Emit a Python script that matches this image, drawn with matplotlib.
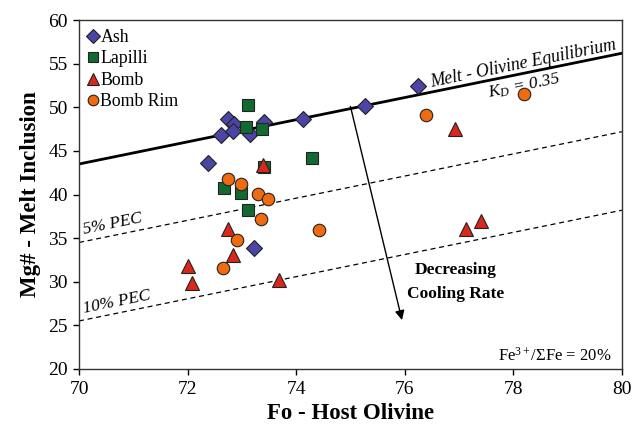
import numpy as np
import matplotlib
matplotlib.use("Agg")
import matplotlib.pyplot as plt

plt.rcParams['font.family'] = ['Liberation Serif', 'DejaVu Serif']
plt.rcParams['mathtext.fontset'] = 'custom'
plt.rcParams['mathtext.rm'] = 'Liberation Serif'
plt.rcParams['mathtext.it'] = 'Liberation Serif:italic'
plt.rcParams['mathtext.bf'] = 'Liberation Serif:bold'

# Host olivine Fo vs melt inclusion Mg#
ash_fo = [72.75, 72.86, 72.61, 72.83, 73.15, 73.41, 74.13, 72.38, 73.23, 75.27, 76.24]
ash_mg = [48.7, 48.1, 46.8, 47.3, 46.9, 48.3, 48.7, 43.6, 33.9, 50.2, 52.4]

lapilli_fo = [73.11, 73.08, 73.37, 74.29, 73.40, 72.67, 72.99, 73.12]
lapilli_mg = [50.3, 47.8, 47.5, 44.2, 43.1, 40.7, 40.2, 38.2]

bomb_fo = [73.39, 72.75, 72.83, 72.01, 72.09, 73.69, 76.93, 77.40, 77.12]
bomb_mg = [43.4, 36.0, 33.1, 31.8, 29.9, 30.2, 47.5, 37.0, 36.0]

rim_fo = [72.74, 72.98, 73.29, 73.49, 73.36, 72.91, 72.66, 74.43, 76.39, 78.19]
rim_mg = [41.8, 41.2, 40.1, 39.5, 37.2, 34.8, 31.6, 35.9, 49.1, 51.5]

# Reference lines (Fo, Mg#) end points
fo_range = [70, 80]
equil_mg = [43.5, 56.2]
pec5_mg = [34.5, 47.2]
pec10_mg = [25.5, 38.2]

fig = plt.figure(figsize=(6.32, 4.28), dpi=100)
ax = fig.add_axes([0.125, 0.138, 0.859, 0.815])

ax.plot(fo_range, equil_mg, color='black', lw=2.0, zorder=2)
ax.plot(fo_range, pec5_mg, color='black', lw=0.9, ls=(0, (4, 3)), zorder=2)
ax.plot(fo_range, pec10_mg, color='black', lw=0.9, ls=(0, (4, 3)), zorder=2)

# Cooling-rate arrow
ax.annotate('', xy=(75.95, 25.6), xytext=(75.0, 50.1),
            arrowprops=dict(arrowstyle='-|>', lw=1.0, color='black',
                            mutation_scale=14, shrinkA=0, shrinkB=0),
            zorder=2)

ek = dict(markeredgecolor='#222222', markeredgewidth=0.8, linestyle='none', zorder=3)
ax.plot(ash_fo, ash_mg, marker='D', markersize=7.8, color='#4b46a6', label='Ash', **ek)
ax.plot(lapilli_fo, lapilli_mg, marker='s', markersize=8.5, color='#126a30', label='Lapilli', **ek)
ax.plot(bomb_fo, bomb_mg, marker='^', markersize=9.5, color='#d8271d', label='Bomb', **ek)
ax.plot(rim_fo, rim_mg, marker='o', markersize=9, color='#f06a10', label='Bomb Rim', **ek)

ax.set_xlim(70, 80)
ax.set_ylim(20, 60)
ax.set_xticks(np.arange(70, 81, 2))
ax.set_yticks(np.arange(20, 61, 5))
ax.tick_params(axis='both', direction='out', length=4, width=1, labelsize=14,
               top=False, right=False)
ax.tick_params(axis='x', pad=5)
ax.tick_params(axis='y', pad=4)
for s in ax.spines.values():
    s.set_linewidth(1.0)
    s.set_color('#333333')

ax.set_xlabel('Fo - Host Olivine', fontsize=16.5, fontweight='bold', labelpad=3)
ax.set_ylabel('Mg# - Melt Inclusion', fontsize=16.5, fontweight='bold', labelpad=5)

leg = ax.legend(loc='upper left', frameon=False, fontsize=12.8, handlelength=0.55,
                handletextpad=0.15, labelspacing=0.25, borderaxespad=0.2,
                borderpad=0.3, markerscale=0.85)

slope_ang = np.degrees(np.arctan((equil_mg[1] - equil_mg[0]) / (fo_range[1] - fo_range[0])))

ax.text(76.5, 52.3, 'Melt - Olivine Equilibrium', fontsize=12.8, style='italic',
        rotation=slope_ang, transform_rotates_text=True, rotation_mode='anchor',
        ha='left', va='baseline')
ax.text(77.55, 51.1, r'$K_D$ = 0.35', fontsize=12.5, style='italic',
        rotation=slope_ang, transform_rotates_text=True, rotation_mode='anchor',
        ha='left', va='baseline')
ax.text(70.1, 35.5, '5% PEC', fontsize=12.4, style='italic',
        rotation=slope_ang, transform_rotates_text=True, rotation_mode='anchor',
        ha='left', va='baseline')
ax.text(70.1, 26.4, '10% PEC', fontsize=12.4, style='italic',
        rotation=slope_ang, transform_rotates_text=True, rotation_mode='anchor',
        ha='left', va='baseline')

ax.text(76.93, 31.4, 'Decreasing', fontsize=12.5, fontweight='bold', ha='center', va='center')
ax.text(76.93, 28.6, 'Cooling Rate', fontsize=12.5, fontweight='bold', ha='center', va='center')

ax.text(79.8, 21.5, r'Fe$^{3+}$/ΣFe = 20%', fontsize=12, ha='right', va='center')

fig.savefig('out.png', dpi=100)
